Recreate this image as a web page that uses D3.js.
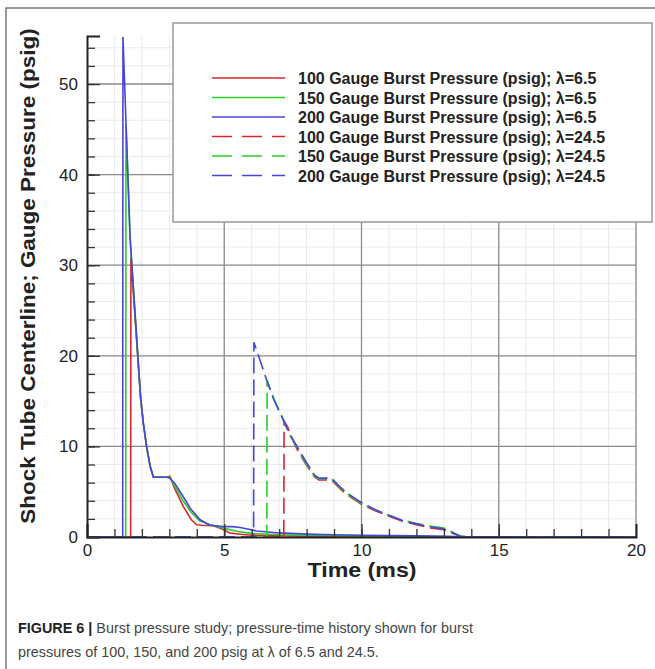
<!DOCTYPE html>
<html>
<head>
<meta charset="utf-8">
<script src="https://cdn.jsdelivr.net/npm/d3@7"></script>
<style>
  body { margin: 0; background: #fff; }
  svg { display: block; font-family: "Liberation Sans", Arial, sans-serif; }
  .tick text { font-size: 17px; fill: #222; }
</style>
</head>
<body>
<svg id="area" width="655" height="669"></svg>
<script>

// time (ms) and gauge pressure (psig)
let tBlue  = [0, 1.30, 1.31, 1.57, 1.95, 2.05, 2.17, 2.3, 2.42, 2.9, 3.02, 3.2, 3.39, 3.6, 3.75, 4.12, 4.48, 4.96, 5.3, 5.57, 5.9, 6.18, 7.0, 8.0, 9.0, 10.0, 11.0, 12.0, 13.0, 13.6, 20];
let pBlue  = [0, 0, 55.2, 33.0, 15.5, 12.6, 10.0, 7.8, 6.6, 6.6, 6.5, 5.9, 5.0, 4.0, 3.2, 1.9, 1.3, 1.15, 1.15, 1.05, 0.85, 0.66, 0.45, 0.32, 0.25, 0.2, 0.16, 0.12, 0.08, 0.02, 0];

let tGreen = [0, 1.41, 1.42, 1.57, 1.95, 2.05, 2.17, 2.3, 2.42, 2.9, 3.02, 3.2, 3.5, 3.8, 4.1, 4.5, 5.0, 5.5, 6.0, 7.0, 8.0, 10.0, 12.0, 13.6, 20];
let pGreen = [0, 0, 45.6, 33.0, 15.5, 12.6, 10.0, 7.8, 6.6, 6.6, 6.6, 5.6, 4.0, 2.7, 1.8, 1.35, 0.95, 0.6, 0.4, 0.25, 0.18, 0.12, 0.08, 0.02, 0];

let tRed   = [0, 1.59, 1.60, 1.95, 2.05, 2.17, 2.3, 2.42, 2.9, 3.02, 3.2, 3.5, 3.8, 4.0, 4.2, 4.6, 4.9, 5.2, 5.6, 6.0, 7.0, 8.0, 10.0, 12.0, 13.6, 20];
let pRed   = [0, 0, 30.8, 15.5, 12.6, 10.0, 7.8, 6.6, 6.6, 6.7, 5.3, 3.4, 1.9, 1.35, 1.3, 1.25, 0.9, 0.45, 0.3, 0.2, 0.13, 0.1, 0.07, 0.05, 0.01, 0];

let tBlueD  = [0, 6.07, 6.08, 6.56, 6.8, 7.18, 7.4, 7.65, 8.0, 8.3, 8.45, 8.9, 9.0, 9.3, 9.6, 10.0, 10.5, 11.0, 11.5, 12.0, 12.5, 13.0, 13.3, 13.6, 14.0, 20];
let pBlueD  = [0, 0, 21.5, 17.2, 15.2, 12.7, 11.3, 10.0, 8.2, 6.8, 6.5, 6.5, 6.2, 5.3, 4.6, 3.8, 3.0, 2.4, 1.8, 1.45, 1.1, 0.9, 0.5, 0.08, 0, 0];

let tGreenD = [0, 6.55, 6.56, 6.8, 7.18, 7.4, 7.65, 8.0, 8.3, 8.45, 8.9, 9.0, 9.3, 9.6, 10.0, 10.5, 11.0, 11.5, 12.0, 12.5, 13.0, 13.3, 13.6, 14.0, 20];
let pGreenD = [0, 0, 17.3, 15.3, 12.8, 11.2, 9.9, 8.0, 6.7, 6.4, 6.4, 6.1, 5.2, 4.5, 3.7, 3.0, 2.4, 1.85, 1.5, 1.2, 1.0, 0.55, 0.1, 0, 0];

let tRedD   = [0, 7.17, 7.18, 7.3, 7.45, 7.65, 8.0, 8.3, 8.45, 8.9, 9.0, 9.3, 9.6, 10.0, 10.5, 11.0, 11.5, 12.0, 12.5, 13.0, 13.3, 13.6, 14.0, 20];
let pRedD   = [0, 0, 12.8, 12.2, 11.0, 9.7, 7.9, 6.6, 6.3, 6.3, 6.0, 5.1, 4.4, 3.6, 2.9, 2.3, 1.75, 1.35, 1.0, 0.8, 0.45, 0.06, 0, 0];

let legendLabels = [
  "100 Gauge Burst Pressure (psig); \u03bb=6.5",
  "150 Gauge Burst Pressure (psig); \u03bb=6.5",
  "200 Gauge Burst Pressure (psig); \u03bb=6.5",
  "100 Gauge Burst Pressure (psig); \u03bb=24.5",
  "150 Gauge Burst Pressure (psig); \u03bb=24.5",
  "200 Gauge Burst Pressure (psig); \u03bb=24.5"
];
let xTicks = [0, 5, 10, 15, 20];
let yTicks = [0, 10, 20, 30, 40, 50];

let red = "#d8262e", green = "#2ccc2c", blue = "#4646dc";

let series = [
  {t: tRed, p: pRed, color: red, dash: null},
  {t: tGreen, p: pGreen, color: green, dash: null},
  {t: tBlue, p: pBlue, color: blue, dash: null},
  {t: tRedD, p: pRedD, color: red, dash: "16,6"},
  {t: tGreenD, p: pGreenD, color: green, dash: "16,6"},
  {t: tBlueD, p: pBlueD, color: blue, dash: "16,6"}
];

let svg = d3.select("#area");

let xScale = d3.scaleLinear().domain([0, 20]).range([87, 636]);
let yScale = d3.scaleLinear().domain([0, 55.3]).range([537, 36]);

// outer frame
svg.append("path")
  .attr("d", "M6,669V8H655")
  .style("fill", "none")
  .style("stroke", "#777")
  .style("stroke-width", "1.5px");

// minor grid
svg.append("g").selectAll("line")
  .data(d3.range(1, 21))
  .join("line")
  .attr("x1", d => xScale(d)).attr("x2", d => xScale(d))
  .attr("y1", yScale(0)).attr("y2", yScale(55.3))
  .style("stroke", "#ebebeb");
svg.append("g").selectAll("line")
  .data(d3.range(2, 56, 2))
  .join("line")
  .attr("x1", xScale(0)).attr("x2", xScale(20))
  .attr("y1", d => yScale(d)).attr("y2", d => yScale(d))
  .style("stroke", "#ebebeb");

// major grid
svg.append("g").selectAll("line")
  .data(xTicks.slice(1))
  .join("line")
  .attr("x1", d => xScale(d)).attr("x2", d => xScale(d))
  .attr("y1", yScale(0)).attr("y2", yScale(55.3))
  .style("stroke", "#8c8c8c").style("stroke-width", "1.3px");
svg.append("g").selectAll("line")
  .data(yTicks.slice(1))
  .join("line")
  .attr("x1", xScale(0)).attr("x2", xScale(20))
  .attr("y1", d => yScale(d)).attr("y2", d => yScale(d))
  .style("stroke", "#8c8c8c").style("stroke-width", "1.3px");

// curves
let line = d3.line()
  .x(d => xScale(d[0]))
  .y(d => yScale(d[1]));

series.forEach(s => {
  svg.append("path")
    .datum(s.t.map((t, i) => [t, s.p[i]]))
    .attr("d", line)
    .style("fill", "none")
    .style("stroke", s.color)
    .style("stroke-width", "1.6px")
    .style("stroke-dasharray", s.dash);
});

// axes, ticks pointing inward
let bottomAxis = d3.axisBottom(xScale).tickValues(xTicks).tickSize(-13).tickPadding(7).tickFormat(d3.format("d"));
let leftAxis = d3.axisLeft(yScale).tickValues(yTicks).tickSize(-13).tickPadding(9).tickFormat(d3.format("d"));

let gx = svg.append("g")
  .attr("class", "axis")
  .attr("transform", "translate(0," + yScale(0) + ")")
  .call(bottomAxis);
svg.append("g")
  .attr("transform", "translate(0," + yScale(0) + ")")
  .call(d3.axisBottom(xScale).tickValues(d3.range(1, 20)).tickSize(-8).tickFormat(""))
  .select(".domain").remove();

let gy = svg.append("g")
  .attr("class", "axis")
  .attr("transform", "translate(" + xScale(0) + ",0)")
  .call(leftAxis);
svg.append("g")
  .attr("transform", "translate(" + xScale(0) + ",0)")
  .call(d3.axisLeft(yScale).tickValues(d3.range(2, 56, 2)).tickSize(-8).tickFormat(""))
  .select(".domain").remove();

svg.selectAll(".domain").style("stroke", "#222").style("stroke-width", "2px");
svg.selectAll(".tick line").style("stroke", "#333").style("stroke-width", "1.3px");
gx.select(".tick:last-of-type line").remove();

// axis titles (the original face is wider than Arial, so stretch a little)
svg.append("text")
  .attr("transform", "translate(362,577) scale(1.16,1)")
  .attr("text-anchor", "middle")
  .style("font-weight", "bold").style("font-size", "20px").style("fill", "#222")
  .text("Time (ms)");
svg.append("text")
  .attr("transform", "translate(35,276) rotate(-90) scale(1.125,1)")
  .attr("text-anchor", "middle")
  .style("font-weight", "bold").style("font-size", "20px").style("fill", "#222")
  .text("Shock Tube Centerline; Gauge Pressure (psig)");

// legend
let legend = svg.append("g");
legend.append("rect")
  .attr("x", 173).attr("y", 23).attr("width", 479).attr("height", 199)
  .style("fill", "#fff").style("stroke", "#999").style("stroke-width", "1.5px");
series.forEach((s, i) => {
  let yy = 78 + i * 19.5;
  legend.append("line")
    .attr("x1", 212).attr("x2", 285).attr("y1", yy).attr("y2", yy)
    .style("stroke", s.color).style("stroke-width", "1.6px")
    .style("stroke-dasharray", s.dash ? "20,10" : null);
  legend.append("text")
    .attr("x", 298).attr("y", yy + 6)
    .style("font-weight", "bold").style("font-size", "16px").style("fill", "#222")
    .text(legendLabels[i]);
});

// caption
let cap = svg.append("text")
  .attr("transform", "translate(18,633) scale(0.96,1)")
  .style("font-size", "15px").style("fill", "#444");
cap.append("tspan").style("font-weight", "bold").style("fill", "#222").text("FIGURE 6 | ");
cap.append("tspan").text("Burst pressure study; pressure-time history shown for burst");
svg.append("text")
  .attr("transform", "translate(18,657) scale(0.96,1)")
  .style("font-size", "15px").style("fill", "#444")
  .text("pressures of 100, 150, and 200 psig at \u03bb of 6.5 and 24.5.");

</script>
</body>
</html>
